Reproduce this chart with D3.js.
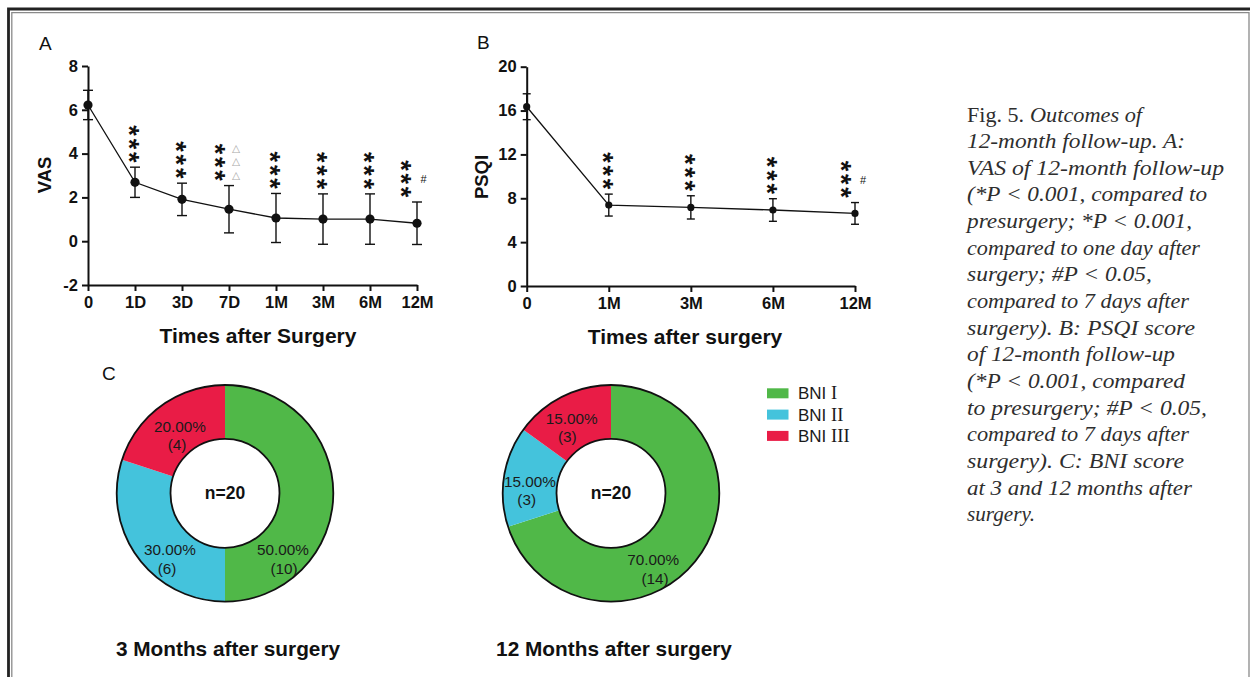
<!DOCTYPE html>
<html><head><meta charset="utf-8">
<script src="https://cdn.jsdelivr.net/npm/d3@7"></script>
<style>html,body{margin:0;padding:0;background:#fff;} svg{display:block;}</style>
</head><body>
<script>
// ---------- DATA ----------
const vasCats = ["0","1D","3D","7D","1M","3M","6M","12M"];
const vasMean = [6.22, 2.69, 1.91, 1.46, 1.06, 1.01, 1.01, 0.82];
const vasSD   = [0.67, 0.69, 0.74, 1.08, 1.12, 1.15, 1.15, 0.97];
const vasTicks = [-2, 0, 2, 4, 6, 8];
const vasStars = ["", "***", "***", "***", "***", "***", "***", "***"];
const vasTri   = ["", "", "", "△△△", "", "", "", ""];
const vasHash  = ["", "", "", "", "", "", "", "#"];

const psqiCats = ["0","1M","3M","6M","12M"];
const psqiMean = [16.35, 7.38, 7.17, 6.93, 6.62];
const psqiSD   = [1.18, 1.0, 1.06, 1.03, 0.99];
const psqiTicks = [0, 4, 8, 12, 16, 20];
const psqiStars = ["", "***", "***", "***", "***"];
const psqiHash  = ["", "", "", "", "#"];

const bniCats = ["BNI I", "BNI II", "BNI III"];
const bni3m  = [10, 6, 4];
const bni12m = [14, 3, 3];
const bniColors = ["#50b848", "#44c3dc", "#e91c46"];

const captionLines = [
  "12-month follow-up. A:",
  "VAS of 12-month follow-up",
  "(*P < 0.001, compared to",
  "presurgery; *P < 0.001,",
  "compared to one day after",
  "surgery; #P < 0.05,",
  "compared to 7 days after",
  "surgery). B: PSQI score",
  "of 12-month follow-up",
  "(*P < 0.001, compared",
  "to presurgery; #P < 0.05,",
  "compared to 7 days after",
  "surgery). C: BNI score",
  "at 3 and 12 months after",
  "surgery."
];
const captionWidths = [218,257,240,225,233,185,222,228,208,218,240,222,217,225,68];

// ---------- SETUP ----------
const W = 1250, H = 677;
const SANS = "'Liberation Sans', Arial, sans-serif";
const SERIF = "'Liberation Serif', 'Times New Roman', serif";
const svg = d3.select("body").append("svg").attr("width", W).attr("height", H);
svg.append("rect").attr("width", W).attr("height", H).attr("fill", "#fff");

// page frame
svg.append("path").attr("d", "M8.5,677 V9 H1250").attr("fill","none").attr("stroke","#222").attr("stroke-width",2.8);
svg.append("path").attr("d", "M11.8,677 V12.6 H1249 V677").attr("fill","none").attr("stroke","#8a8a8a").attr("stroke-width",1.3);

// ---------- line chart helper ----------
function lineChart(cfg) {
  const g = svg.append("g");
  const x = d3.scalePoint().domain(cfg.cats).range(cfg.xr).padding(0);
  const y = d3.scaleLinear().domain(cfg.ydom).range(cfg.yr);

  const yAx = g.append("g").attr("transform", `translate(${cfg.xr[0]},0)`)
    .call(d3.axisLeft(y).tickValues(cfg.ticks).tickFormat(d => String(d))
      .tickSize(6).tickSizeOuter(0).tickPadding(4));
  const xAx = g.append("g").attr("transform", `translate(0,${cfg.yr[0]})`)
    .call(d3.axisBottom(x).tickSize(6).tickSizeOuter(0).tickPadding(5));
  [yAx, xAx].forEach(a => {
    a.select(".domain").attr("stroke", "#111").attr("stroke-width", 2);
    a.selectAll(".tick line").attr("stroke", "#111").attr("stroke-width", 2);
    a.selectAll(".tick text").attr("fill", "#111").style("font-family", SANS)
      .style("font-size", "16.5px").style("font-weight", "bold");
  });

  const data = cfg.cats.map((c, i) => ({c, m: cfg.mean[i], sd: cfg.sd[i], i}));
  // error bars
  const eb = g.append("g").attr("stroke", "#111").attr("stroke-width", 1.4);
  data.forEach(d => {
    const cx = x(d.c);
    eb.append("line").attr("x1", cx).attr("x2", cx).attr("y1", y(d.m + d.sd)).attr("y2", y(d.m - d.sd));
    [d.m + d.sd, d.m - d.sd].forEach(v => {
      eb.append("line").attr("x1", cx - cfg.cap).attr("x2", cx + cfg.cap).attr("y1", y(v)).attr("y2", y(v));
    });
  });
  // line
  g.append("path").datum(data)
    .attr("d", d3.line().x(d => x(d.c)).y(d => y(d.m)))
    .attr("fill", "none").attr("stroke", "#111").attr("stroke-width", 1.3);
  g.selectAll("circle.pt").data(data).join("circle")
    .attr("cx", d => x(d.c)).attr("cy", d => y(d.m)).attr("r", cfg.r).attr("fill", "#111");

  // significance marks: "***" drawn as one text turned 90deg, so the stars stack vertically
  const fs = 27, adv = 0.389 * fs, gap = 13.3;
  data.forEach(d => {
    const stars = cfg.stars[d.i];
    if (!stars) return;
    const top = y(d.m + d.sd);
    const off = cfg.starOff[d.i] || 0;
    const cx = x(d.c) + off;
    const topStar = top - 10 - (stars.length - 1) * gap;
    const ax = cx - 0.56 * fs, ay = topStar - adv / 2;
    g.append("text").attr("transform", `translate(${ax},${ay}) rotate(90)`)
      .attr("fill", "#111").style("letter-spacing", (gap - adv) + "px")
      .style("font-family", SANS).style("font-weight", "bold").style("font-size", fs + "px")
      .text(stars);
    const tri = cfg.tri ? cfg.tri[d.i] : "";
    for (let k = 0; k < tri.length; k++) {
      const cy = top - 11 - k * 13.2;
      g.append("text").attr("x", cx + 14.5).attr("y", cy + 4)
        .attr("text-anchor", "middle").attr("fill", "#aaa")
        .style("font-family", "'DejaVu Sans', sans-serif").style("font-size", "10.5px")
        .text(tri[k]);
    }
    if (cfg.hash[d.i]) {
      g.append("text").attr("x", cx + 16).attr("y", top - 23 + 4)
        .attr("text-anchor", "middle").attr("fill", "#111")
        .style("font-family", SANS).style("font-size", "11px")
        .text(cfg.hash[d.i]);
    }
  });

  // titles
  g.append("text").attr("transform", `translate(${cfg.ytx},${cfg.yty}) rotate(-90)`)
    .attr("text-anchor", "middle").attr("fill", "#111")
    .style("font-family", SANS).style("font-weight", "bold").style("font-size", "18.5px")
    .text(cfg.ytitle);
  g.append("text").attr("x", cfg.xtx).attr("y", cfg.xty).attr("text-anchor", "middle").attr("fill", "#111")
    .style("font-family", SANS).style("font-weight", "bold").style("font-size", "21px")
    .text(cfg.xtitle);
  g.append("text").attr("x", cfg.lx).attr("y", cfg.ly).attr("fill", "#111")
    .style("font-family", SANS).style("font-size", "19px").text(cfg.label);
}

lineChart({
  cats: vasCats, mean: vasMean, sd: vasSD, ticks: vasTicks,
  xr: [88, 417], ydom: [-2, 8], yr: [285, 66], cap: 5, r: 4.6,
  stars: vasStars, tri: vasTri, hash: vasHash,
  starOff: [0, 0, 0, -7.5, 0, 0, 0, -9.5],
  ytitle: "VAS", ytx: 51, yty: 175,
  xtitle: "Times after Surgery", xtx: 258, xty: 343,
  label: "A", lx: 39, ly: 50
});
lineChart({
  cats: psqiCats, mean: psqiMean, sd: psqiSD, ticks: psqiTicks,
  xr: [526.7, 855], ydom: [0, 20], yr: [286, 66.7], cap: 4, r: 3.6,
  stars: psqiStars, tri: null, hash: psqiHash,
  starOff: [0, 0, 0, 0, -8],
  ytitle: "PSQI", ytx: 488, yty: 177,
  xtitle: "Times after surgery", xtx: 685, xty: 344,
  label: "B", lx: 477, ly: 49
});

// ---------- donuts ----------
svg.append("text").attr("x", 102).attr("y", 380).attr("fill", "#111")
  .style("font-family", SANS).style("font-size", "19px").text("C");

function donut(cx, cy, vals, title, labelPos) {
  const g = svg.append("g").attr("transform", `translate(${cx},${cy})`);
  const total = d3.sum(vals);
  const pie = d3.pie().sort(null).value(d => d)(vals);
  const arc = d3.arc().innerRadius(54.5).outerRadius(108.3);
  g.selectAll("path.seg").data(pie).join("path")
    .attr("d", arc).attr("fill", (d, i) => bniColors[i]);
  g.append("circle").attr("r", 108.3).attr("fill", "none").attr("stroke", "#111").attr("stroke-width", 1.8);
  g.append("circle").attr("r", 54.5).attr("fill", "#fff").attr("stroke", "#111").attr("stroke-width", 1.8);
  g.append("text").attr("y", 6).attr("text-anchor", "middle").attr("fill", "#111")
    .style("font-family", SANS).style("font-weight", "bold").style("font-size", "17.5px").text("n=20");
  pie.forEach((d, i) => {
    const p = labelPos[i];
    g.append("text").attr("x", p[0]).attr("y", p[1] + 5.3).attr("text-anchor", "middle").attr("fill", "#1a1a1a")
      .style("font-family", SANS).style("font-size", "15.3px")
      .text(d3.format(".2f")(vals[i] / total * 100) + "%");
    g.append("text").attr("x", p[2]).attr("y", p[3] + 5.3).attr("text-anchor", "middle").attr("fill", "#1a1a1a")
      .style("font-family", SANS).style("font-size", "15.3px")
      .text("(" + vals[i] + ")");
  });
  svg.append("text").attr("x", cx + 3).attr("y", 656).attr("text-anchor", "middle").attr("fill", "#111")
    .style("font-family", SANS).style("font-weight", "bold").style("font-size", "20.8px").text(title);
}
donut(225, 493.3, bni3m, "3 Months after surgery",
  [[58, 56.7, 59, 75], [-55, 56.7, -58, 75], [-45, -66.6, -48, -48.3]]);
donut(611, 493.3, bni12m, "12 Months after surgery",
  [[42.3, 66.7, 44, 85], [-81, -11.6, -84.3, 6.7], [-39.3, -75, -43.7, -56.6]]);

// legend
const leg = svg.append("g");
bniCats.forEach((c, i) => {
  const yy = 393.3 + i * 21.3;
  leg.append("rect").attr("x", 767).attr("y", yy - 5).attr("width", 21.5).attr("height", 10).attr("fill", bniColors[i]);
  const parts = c.split(" ");
  const t = leg.append("text").attr("x", 798).attr("y", yy + 6).attr("fill", "#1a1a1a")
    .style("font-family", SANS).style("font-size", "17px");
  t.append("tspan").text(parts[0] + " ");
  t.append("tspan").style("font-family", SERIF).style("font-size", "18.5px").text(parts[1]);
});

// ---------- caption ----------
const cap = svg.append("g").attr("fill", "#2e2e2e").style("font-family", SERIF).style("font-size", "20px");
const x0 = 967, y0 = 121.5, lh = 26.65;
cap.append("text").attr("x", x0).attr("y", y0).attr("textLength", 57).attr("lengthAdjust", "spacingAndGlyphs").text("Fig. 5.");
cap.append("text").attr("x", 1030).attr("y", y0).style("font-style", "italic")
  .attr("textLength", 112).attr("lengthAdjust", "spacingAndGlyphs").text("Outcomes of");
captionLines.forEach((ln, i) => {
  cap.append("text").attr("x", x0).attr("y", y0 + (i + 1) * lh).style("font-style", "italic")
    .attr("textLength", captionWidths[i]).attr("lengthAdjust", "spacingAndGlyphs").text(ln);
});
</script>
</body></html>
